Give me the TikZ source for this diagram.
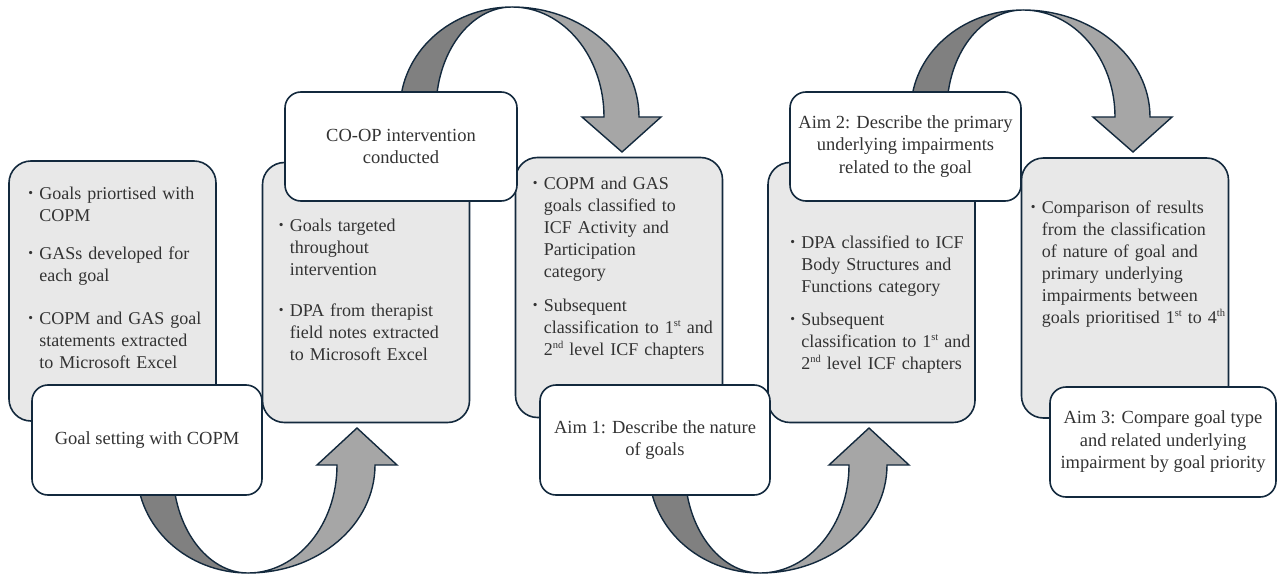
\documentclass[tikz,border=0pt]{standalone}
\usepackage{fontspec}
\setmainfont{Liberation Serif}

\definecolor{edge}{HTML}{13293D}
\definecolor{boxgrey}{HTML}{E8E8E8}
\definecolor{txt}{HTML}{333333}
\definecolor{arrdark}{HTML}{808080}
\definecolor{arrlight}{HTML}{A6A6A6}

% bullet item with hanging indent, the space between two items, small ordinals
\newcommand\bit{\par\noindent\hangindent=11pt\hangafter=1\makebox[11pt][l]{\raisebox{0.12em}{\scalebox{0.75}{\textbullet}}}}
\newcommand\gap[1]{\par\vspace{#1}}
\newcommand\ord[1]{\raisebox{0.38em}{\fontsize{10.5}{10.5}\selectfont #1}}

\tikzset{
  greybox/.style={draw=edge, fill=boxgrey, line width=1.6pt, rounded corners=22pt,
    minimum width=207pt, minimum height=260pt, inner sep=0pt},
  whitebox/.style={draw=edge, fill=white, line width=1.6pt, rounded corners=16pt,
    minimum width=230pt, minimum height=110pt, align=center, text=txt,
    font=\fontsize{18.5}{22.5}\selectfont},
  bullets/.style={anchor=base west, inner sep=0pt, text width=200pt, text=txt,
    font=\fontsize{18}{22}\selectfont},
  backband/.style={draw=edge, fill=arrdark, line width=1.4pt, line join=round},
  frontband/.style={draw=edge, fill=arrlight, line width=1.4pt, line join=miter},
}

\begin{document}
\begin{tikzpicture}[x=1pt, y=-1pt]

\useasboundingbox (0,0) rectangle (1279,575);

% grey step boxes
\node[greybox] (g1) at (112.5,291) {};
\node[greybox] (g2) at (366,292.5) {};
\node[greybox] (g3) at (619,287.5) {};
\node[greybox] (g4) at (871.5,292.5) {};
\node[greybox] (g5) at (1125,288) {};

\node[bullets] (g1txt) at ([shift={(20,17)}]g1.north west) {%
\bit Goals priortised with\newline COPM
\gap{16pt}\bit GASs developed for\newline each goal
\gap{21pt}\bit COPM and GAS goal\newline statements extracted\newline to Microsoft Excel\par};
\node[bullets] (g2txt) at ([shift={(17,48)}]g2.north west) {%
\bit Goals targeted\newline throughout\newline intervention
\gap{19pt}\bit DPA from therapist\newline field notes extracted\newline to Microsoft Excel\par};
\node[bullets] (g3txt) at ([shift={(18,11)}]g3.north west) {%
\bit COPM and GAS\newline goals classified to\newline ICF Activity and\newline Participation\newline category
\gap{12pt}\bit Subsequent\newline classification to 1\ord{st} and\newline 2\ord{nd} level ICF chapters\par};
\node[bullets] (g4txt) at ([shift={(23,65)}]g4.north west) {%
\bit DPA classified to ICF\newline Body Structures and\newline Functions category
\gap{11pt}\bit Subsequent\newline classification to 1\ord{st} and\newline 2\ord{nd} level ICF chapters\par};
\node[bullets] (g5txt) at ([shift={(10,34)}]g5.north west) {%
\bit Comparison of results\newline from the classification\newline of nature of goal and\newline primary underlying\newline impairments between\newline goals prioritised 1\ord{st} to 4\ord{th}\par};

% curved block arrows
\draw[backband] (137,470) .. controls (137,527) and (187,573) .. (248,573)
  .. controls (207,573) and (173,527) .. (173,470) -- cycle;
\draw[frontband] (248,573) .. controls (318,573) and (375,525) .. (375,465)
  -- (397,465) -- (357,428) -- (317,465) -- (337,465)
  .. controls (337,525) and (297,573) .. (248,573) -- cycle;

\draw[backband] (400,110) .. controls (400,53) and (450,7) .. (512,7)
  .. controls (470,7) and (436,53) .. (436,110) -- cycle;
\draw[frontband] (512,7) .. controls (582,7) and (639,56) .. (639,117)
  -- (661,117) -- (622,152) -- (582,117) -- (604,117)
  .. controls (604,56) and (563,7) .. (512,7) -- cycle;

\begin{scope}[xshift=512pt]
\draw[backband] (137,470) .. controls (137,527) and (187,573) .. (248,573)
  .. controls (207,573) and (173,527) .. (173,470) -- cycle;
\draw[frontband] (248,573) .. controls (318,573) and (375,525) .. (375,465)
  -- (397,465) -- (357,428) -- (317,465) -- (337,465)
  .. controls (337,525) and (297,573) .. (248,573) -- cycle;
\end{scope}

\begin{scope}[xshift=511pt]
\draw[backband] (400,110) .. controls (400,55) and (450,10) .. (512,10)
  .. controls (470,10) and (436,55) .. (436,110) -- cycle;
\draw[frontband] (512,10) .. controls (582,10) and (639,58) .. (639,117)
  -- (661,117) -- (622,152) -- (582,117) -- (604,117)
  .. controls (604,58) and (563,10) .. (512,10) -- cycle;
\end{scope}

% white step labels
\node[whitebox] (w1) at (147,440) {Goal setting with COPM};
\node[whitebox, minimum width=232pt, minimum height=109pt] (w2) at (401,146.5) {CO-OP intervention\\conducted};
\node[whitebox] (w3) at (655,440) {Aim 1: Describe the nature\\of goals};
\node[whitebox, minimum width=231pt, minimum height=109pt] (w4) at (905.5,146.5) {Aim 2: Describe the primary\\underlying impairments\\related to the goal};
\node[whitebox, minimum width=226pt] (w5) at (1163,442) {Aim 3: Compare goal type\\and related underlying\\impairment by goal priority};

\end{tikzpicture}
\end{document}
